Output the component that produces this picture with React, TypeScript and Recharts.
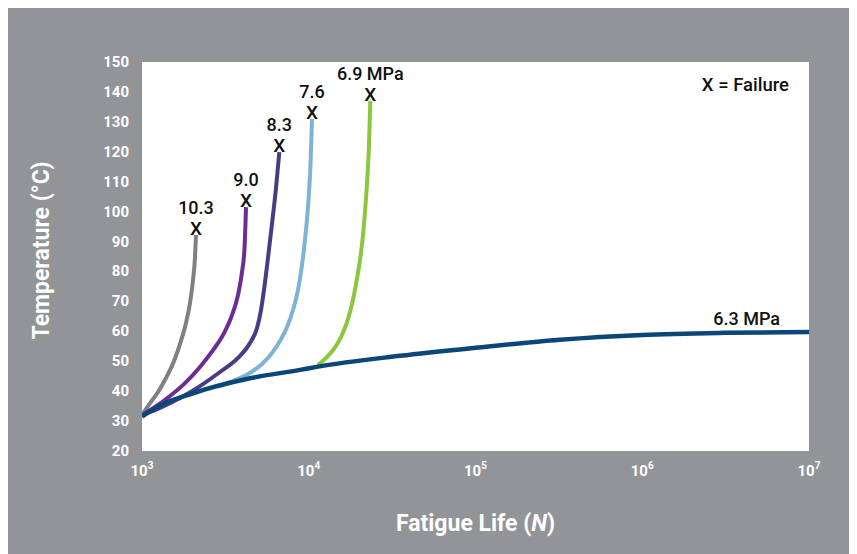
import React from 'react';
import { LineChart, Line, XAxis, YAxis, CartesianGrid, Label, Customized } from 'recharts';

// Fatigue life (cycles) vs. temperature for each stress level
const X_TICKS = [1e3, 1e4, 1e5, 1e6, 1e7];
const Y_TICKS = [20, 30, 40, 50, 60, 70, 80, 90, 100, 110, 120, 130, 140, 150];

const S_10_3 = [
  { n: 1000, t: 32 }, { n: 1117, t: 36.0 }, { n: 1247, t: 39.7 }, { n: 1393, t: 44.4 },
  { n: 1556, t: 50.1 }, { n: 1714, t: 56.8 }, { n: 1836, t: 62.8 }, { n: 1941, t: 69.5 },
  { n: 2022, t: 77.1 }, { n: 2079, t: 84.8 }, { n: 2108, t: 92.2 },
];
const S_9_0 = [
  { n: 1000, t: 32 }, { n: 1197, t: 34.7 }, { n: 1473, t: 38.4 }, { n: 1811, t: 42.7 },
  { n: 2227, t: 48.1 }, { n: 2666, t: 53.7 }, { n: 3103, t: 59.4 }, { n: 3465, t: 65.4 },
  { n: 3765, t: 72.1 }, { n: 3979, t: 79.8 }, { n: 4119, t: 87.8 }, { n: 4205, t: 101.5 },
];
const S_8_3 = [
  { n: 1000, t: 32 }, { n: 1282, t: 34.4 }, { n: 1690, t: 37.7 }, { n: 2227, t: 41.7 },
  { n: 2937, t: 46.4 }, { n: 3765, t: 51.1 }, { n: 4443, t: 56.1 }, { n: 4896, t: 61.1 },
  { n: 5171, t: 67.1 }, { n: 5390, t: 73.8 }, { n: 5695, t: 84.5 }, { n: 6019, t: 95.9 },
  { n: 6363, t: 107.9 }, { n: 6660, t: 119.9 },
];
const S_7_6 = [
  { n: 2806, t: 41.4 }, { n: 3612, t: 43.7 }, { n: 4443, t: 46.1 }, { n: 5244, t: 49.1 },
  { n: 6019, t: 52.7 }, { n: 6724, t: 56.8 }, { n: 7406, t: 61.4 }, { n: 8045, t: 67.1 },
  { n: 8620, t: 73.8 }, { n: 9110, t: 82.2 }, { n: 9561, t: 92.2 }, { n: 9966, t: 103.9 },
  { n: 10244, t: 115.6 }, { n: 10459, t: 131 },
];
const S_6_9 = [
  { n: 11365, t: 48.7 }, { n: 12687, t: 51.1 }, { n: 14170, t: 54.1 }, { n: 15610, t: 58.1 },
  { n: 16960, t: 63.1 }, { n: 18171, t: 69.1 }, { n: 19204, t: 75.8 }, { n: 20292, t: 83.8 },
  { n: 21153, t: 92.2 }, { n: 21896, t: 102.2 }, { n: 22510, t: 112.2 }, { n: 22980, t: 122.3 },
  { n: 23396, t: 137 },
];
const S_6_3 = [
  { n: 1000, t: 31.5 }, { n: 1225, t: 34.6 }, { n: 2023, t: 39.3 }, { n: 4443, t: 44.3 },
  { n: 8861, t: 47.1 }, { n: 11365, t: 48.2 }, { n: 35240, t: 51.8 }, { n: 100000, t: 54.5 },
  { n: 321000, t: 57.2 }, { n: 1000000, t: 58.8 }, { n: 3130000, t: 59.5 }, { n: 10000000, t: 59.8 },
];

const FAILURE_SERIES = [
  { key: '10.3', name: '10.3', data: S_10_3, color: '#808083' },
  { key: '9.0', name: '9.0', data: S_9_0, color: '#6b2d92' },
  { key: '8.3', name: '8.3', data: S_8_3, color: '#4a3b88' },
  { key: '7.6', name: '7.6', data: S_7_6, color: '#7cb4d6' },
  { key: '6.9', name: '6.9 MPa', data: S_6_9, color: '#8cc63f' },
];
const BASE_SERIES = { name: '6.3 MPa', data: S_6_3, color: '#0a4677' };

const FONT = 'Roboto, "Noto Sans", sans-serif';
const BG = '#939498';

const failureLabel = (name: string, lastIndex: number, lastValue: number) => (props: any) => {
  const { x, y, index, value } = props;
  const isLast = index !== undefined ? index === lastIndex : value === lastValue;
  if (!isLast) return null;
  return (
    <g>
      <text x={x} y={y} textAnchor="middle" fontSize={19} fontWeight={500} fontFamily={FONT} fill="#111">X</text>
      <text x={x} y={y - 21} textAnchor="middle" fontSize={18} fontWeight={500} fontFamily={FONT} fill="#111">{name}</text>
    </g>
  );
};

const baseLabel = (name: string, lastIndex: number) => (props: any) => {
  const { x, y, index } = props;
  if (index !== lastIndex) return null;
  return (
    <text x={x - 29} y={y - 7} textAnchor="end" fontSize={18} fontWeight={500} fontFamily={FONT} fill="#111">{name}</text>
  );
};

const XTick = (props: any) => {
  const { x, y, payload } = props;
  const exp = Math.round(Math.log10(payload.value));
  return (
    <text x={x} y={y + 25} textAnchor="middle" fontFamily={FONT} fontWeight={700} fill="#fff">
      <tspan fontSize={15}>10</tspan>
      <tspan fontSize={10} dy={-7}>{exp}</tspan>
    </text>
  );
};

const YTick = (props: any) => {
  const { x, y, payload } = props;
  return (
    <text x={x - 13} y={y} dy={5} textAnchor="end" fontSize={15} fontFamily={FONT} fontWeight={700} fill="#fff">
      {payload.value}
    </text>
  );
};

const XTitle = (props: any) => {
  const vb = props.viewBox;
  return (
    <text x={vb.x + vb.width / 2} y={vb.y + 80} textAnchor="middle" fontSize={23} fontFamily={FONT} fontWeight={700} fill="#fff">
      Fatigue Life (<tspan fontStyle="italic">N</tspan>)
    </text>
  );
};

const YTitle = (props: any) => {
  const vb = props.viewBox;
  const cx = 33;
  const cy = vb.y + vb.height / 2 - 6;
  return (
    <text x={cx} y={cy} transform={`rotate(-90 ${cx} ${cy})`} textAnchor="middle" dominantBaseline="central"
      fontSize={23} fontFamily={FONT} fontWeight={700} fill="#fff">
      Temperature (°C)
    </text>
  );
};

const FailureNote = () => (
  <text x={781} y={83} textAnchor="end" fontSize={18.5} fontWeight={500} fontFamily={FONT} fill="#111">X = Failure</text>
);

export default function App() {
  return (
    <div style={{ width: 849, height: 546, background: BG }}>
      <LineChart width={849} height={546} margin={{ top: 54, right: 48, bottom: 63, left: 0 }}>
        <CartesianGrid horizontal={false} vertical={false} fill="#ffffff" stroke="none" />
        <XAxis
          type="number"
          dataKey="n"
          scale="log"
          domain={[1000, 10000000]}
          ticks={X_TICKS}
          allowDataOverflow
          axisLine={false}
          tickLine={false}
          tickSize={0}
          tickMargin={0}
          height={40}
          tick={<XTick />}
          interval={0}
        >
          <Label content={<XTitle />} />
        </XAxis>
        <YAxis
          type="number"
          dataKey="t"
          domain={[20, 150]}
          ticks={Y_TICKS}
          allowDataOverflow
          axisLine={false}
          tickLine={false}
          tickSize={0}
          tickMargin={0}
          width={134}
          tick={<YTick />}
          interval={0}
        >
          <Label content={<YTitle />} />
        </YAxis>
        {FAILURE_SERIES.map((s) => (
          <Line
            key={s.key}
            data={s.data}
            dataKey="t"
            type="monotone"
            stroke={s.color}
            strokeWidth={4}
            dot={false}
            activeDot={false}
            isAnimationActive={false}
            label={failureLabel(s.name, s.data.length - 1, s.data[s.data.length - 1].t)}
          />
        ))}
        <Line
          data={BASE_SERIES.data}
          dataKey="t"
          type="monotone"
          stroke={BASE_SERIES.color}
          strokeWidth={4.5}
          dot={false}
          activeDot={false}
          isAnimationActive={false}
          label={baseLabel(BASE_SERIES.name, BASE_SERIES.data.length - 1)}
        />
        <Customized component={FailureNote} />
      </LineChart>
    </div>
  );
}
